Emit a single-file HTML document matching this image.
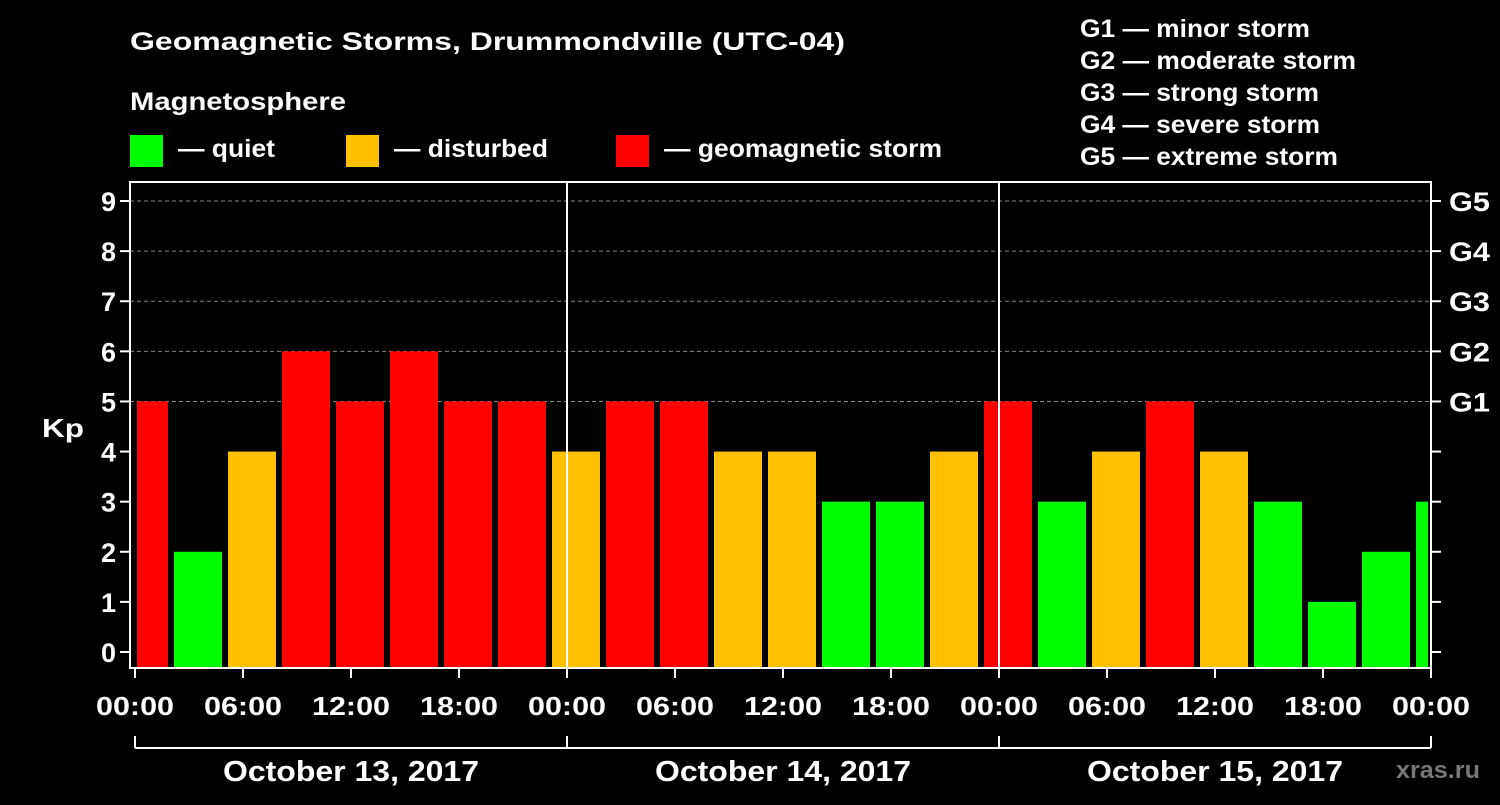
<!DOCTYPE html>
<html><head><meta charset="utf-8"><style>
body{margin:0;background:#000;width:1500px;height:800px;overflow:hidden}
svg text{font-family:"Liberation Sans",Arial,sans-serif;font-weight:bold;fill:#fff}
</style></head><body>
<svg id="c" width="1500" height="800" xmlns="http://www.w3.org/2000/svg">
<text x="130" y="50" font-size="25" textLength="715" lengthAdjust="spacingAndGlyphs">Geomagnetic Storms, Drummondville (UTC-04)</text>
<text x="130" y="110" font-size="25" textLength="216" lengthAdjust="spacingAndGlyphs">Magnetosphere</text>
<rect x="130" y="135" width="33" height="32" fill="#00ff00"/>
<text x="178" y="157" font-size="25" textLength="97" lengthAdjust="spacingAndGlyphs">— quiet</text>
<rect x="346" y="135" width="33" height="32" fill="#ffc000"/>
<text x="394" y="157" font-size="25" textLength="154" lengthAdjust="spacingAndGlyphs">— disturbed</text>
<rect x="616" y="135" width="33" height="32" fill="#ff0000"/>
<text x="664" y="157" font-size="25" textLength="278" lengthAdjust="spacingAndGlyphs">— geomagnetic storm</text>
<g font-size="25">
<text x="1080" y="37" textLength="230" lengthAdjust="spacingAndGlyphs">G1 — minor storm</text>
<text x="1080" y="69" textLength="276" lengthAdjust="spacingAndGlyphs">G2 — moderate storm</text>
<text x="1080" y="101" textLength="239" lengthAdjust="spacingAndGlyphs">G3 — strong storm</text>
<text x="1080" y="133" textLength="240" lengthAdjust="spacingAndGlyphs">G4 — severe storm</text>
<text x="1080" y="165" textLength="258" lengthAdjust="spacingAndGlyphs">G5 — extreme storm</text>
</g>
<text x="42" y="437" font-size="26" textLength="42" lengthAdjust="spacingAndGlyphs">Kp</text>
<text x="1396" y="778" font-size="24" textLength="84" lengthAdjust="spacingAndGlyphs" style="fill:#777">xras.ru</text>
<g id="plot"></g>
</svg>
<script>
const kpValues=[5,2,4,6,5,6,5,5,4,5,5,4,4,3,3,4,5,3,4,5,4,3,1,2,3];
const firstSlotHour=-1;
const slotHours=3;
const yTicks=[0,1,2,3,4,5,6,7,8,9];
const gLabels=["G1","G2","G3","G4","G5"];
const xTickLabels=["00:00","06:00","12:00","18:00","00:00","06:00","12:00","18:00","00:00","06:00","12:00","18:00","00:00"];
const dayLabels=["October 13, 2017","October 14, 2017","October 15, 2017"];
const NS="http://www.w3.org/2000/svg";
const L=130,R=1431,T=182,B=668,X0=135;
const x=h=>X0+h*18;
const y=v=>652-v*50.11;
const g=document.getElementById('plot');
function mk(t,a){const e=document.createElementNS(NS,t);for(const k in a)e.setAttribute(k,a[k]);g.appendChild(e);return e;}
yTicks.forEach(v=>{if(v>=5){const l=mk('line',{x1:L,x2:R,y1:y(v),y2:y(v),stroke:'#888','stroke-dasharray':'4,3','stroke-width':1});

}});
const clip=mk('clipPath',{id:'pc'});const cr=document.createElementNS(NS,'rect');cr.setAttribute('x',X0+2);cr.setAttribute('y',T);cr.setAttribute('width',R-X0-5);cr.setAttribute('height',B-T);clip.appendChild(cr);
kpValues.forEach((v,i)=>{const h0=firstSlotHour+i*slotHours;const c=v>=5?'#ff0000':(v>=4?'#ffc000':'#00ff00');
const r=mk('rect',{x:x(h0)+3,width:48,y:y(v),height:B-y(v),fill:c,'clip-path':'url(#pc)'});

});
[1,2].forEach(d=>{const l=mk('line',{x1:x(d*24),x2:x(d*24),y1:T,y2:B,stroke:'#fff','stroke-width':2});

});
const f=mk('rect',{x:L,y:T,width:R-L,height:B-T,fill:'none',stroke:'#fff','stroke-width':2});


yTicks.forEach(v=>{mk('line',{x1:L-10,x2:L,y1:y(v),y2:y(v),stroke:'#fff','stroke-width':2});
mk('line',{x1:R,x2:R+10,y1:y(v),y2:y(v),stroke:'#fff','stroke-width':2});
const t=mk('text',{x:L-14,y:y(v)+10,'font-size':27,'text-anchor':'end'});t.textContent=v;


if(v>=5){const gt=mk('text',{x:R+18,y:y(v)+10,'font-size':27,textLength:41,lengthAdjust:'spacingAndGlyphs'});gt.textContent=gLabels[v-5];

}});
xTickLabels.forEach((s,i)=>{const xx=x(i*6);mk('line',{x1:xx,x2:xx,y1:B,y2:B+10,stroke:'#fff','stroke-width':2});
const t=mk('text',{x:xx-39,y:715,'font-size':26,textLength:78,lengthAdjust:'spacingAndGlyphs'});t.textContent=s;

});
mk('line',{x1:x(0),x2:x(72),y1:748,y2:748,stroke:'#fff','stroke-width':2});
[0,1,2,3].forEach(d=>mk('line',{x1:x(d*24),x2:x(d*24),y1:736,y2:748,stroke:'#fff','stroke-width':2}));
dayLabels.forEach((s,d)=>{const t=mk('text',{x:x(d*24+12)-128,y:781,'font-size':29,textLength:256,lengthAdjust:'spacingAndGlyphs'});t.textContent=s;

});
</script>
</body></html>
